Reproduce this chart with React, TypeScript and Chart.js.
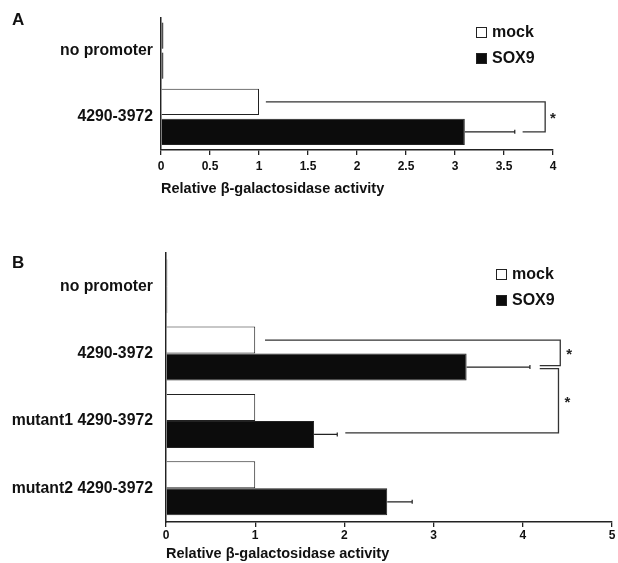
import React, { useEffect, useRef } from "react";
import { Chart, registerables } from "chart.js";
Chart.register(...registerables);

// ---------- Panel A data ----------
const categoriesA = ["no promoter", "4290-3972"];
const mockA = [0.025, 1.0];
const sox9A = [0.025, 3.1];
const sox9ErrA: (number | null)[] = [null, 3.61];
const axisA = { min: 0, max: 4, step: 0.5 };
const bracketsA = [
  { fromCat: 1, fromDs: 0, toCat: 1, toDs: 1, x1: 1.07, xv: 3.92, x2: 3.69, star: 4.0, dy1: 0, dy2: 0 },
];

// ---------- Panel B data ----------
const categoriesB = ["no promoter", "4290-3972", "mutant1 4290-3972", "mutant2 4290-3972"];
const mockB = [0.015, 1.0, 1.0, 1.0];
const sox9B = [0.015, 3.37, 1.66, 2.48];
const sox9ErrB: (number | null)[] = [null, 4.08, 1.92, 2.76];
const axisB = { min: 0, max: 5, step: 1 };
const bracketsB = [
  { fromCat: 1, fromDs: 0, toCat: 1, toDs: 1, x1: 1.11, xv: 4.42, x2: 4.19, star: 4.52, dy1: 0, dy2: -1.5 },
  { fromCat: 1, fromDs: 1, toCat: 2, toDs: 1, x1: 4.19, xv: 4.4, x2: 2.01, star: 4.5, dy1: 1.5, dy2: -1.5 },
];

const seriesLabels = ["mock", "SOX9"];
const seriesColors = ["#ffffff", "#0c0c0c"];
const FONT = "'Liberation Sans', Arial, Helvetica, sans-serif";

const annot = {
  id: "annot",
  afterDatasetsDraw(chart: any, _args: any, opts: any) {
    const ctx = chart.ctx as CanvasRenderingContext2D;
    const xs = chart.scales.x;
    const metas = [chart.getDatasetMeta(0), chart.getDatasetMeta(1)];
    ctx.save();
    // error bars
    ctx.strokeStyle = "#222";
    ctx.lineWidth = 1.2;
    (opts.errors as (number | null)[]).forEach((e, i) => {
      if (e == null) return;
      const bar = metas[1].data[i];
      const y = bar.y;
      const x1 = xs.getPixelForValue(e);
      ctx.beginPath();
      ctx.moveTo(bar.x, y);
      ctx.lineTo(x1, y);
      ctx.moveTo(x1, y - 2);
      ctx.lineTo(x1, y + 2);
      ctx.stroke();
    });
    // brackets
    ctx.strokeStyle = "#333";
    ctx.lineWidth = 1.3;
    ctx.fillStyle = "#222";
    ctx.font = `bold 15px ${FONT}`;
    ctx.textAlign = "center";
    ctx.textBaseline = "middle";
    (opts.brackets as any[]).forEach((b) => {
      const yA = metas[b.fromDs].data[b.fromCat].y + b.dy1;
      const yB = metas[b.toDs].data[b.toCat].y + b.dy2;
      const xa = xs.getPixelForValue(b.x1);
      const xv = xs.getPixelForValue(b.xv);
      const xb = xs.getPixelForValue(b.x2);
      ctx.beginPath();
      ctx.moveTo(xa, yA);
      ctx.lineTo(xv, yA);
      ctx.lineTo(xv, yB);
      ctx.lineTo(xb, yB);
      ctx.stroke();
      ctx.fillText("*", xs.getPixelForValue(b.star), (yA + yB) / 2 + 2);
    });
    // legend
    const lg = opts.legend;
    ctx.textAlign = "left";
    ctx.font = `bold 16px ${FONT}`;
    chart.data.datasets.forEach((ds: any, i: number) => {
      const y = lg.y + i * lg.gap;
      ctx.fillStyle = seriesColors[i];
      ctx.fillRect(lg.x, y, 11, 11);
      ctx.strokeStyle = "#222";
      ctx.lineWidth = 1;
      ctx.strokeRect(lg.x + 0.5, y + 0.5, 10, 10);
      ctx.fillStyle = "#111";
      ctx.textBaseline = "middle";
      ctx.fillText(ds.label, lg.x + 16, y + 6);
    });
    // panel letter
    ctx.font = `bold 17px ${FONT}`;
    ctx.textBaseline = "alphabetic";
    ctx.fillStyle = "#111";
    ctx.fillText(opts.letter, 12, opts.letterY);
    ctx.restore();
  },
};

// very short bars render as solid dark slivers (border dominates)
const fillFor = (i: number) => (c: any) => {
  const v = c.raw as number;
  return v < 0.1 ? "#111" : seriesColors[i];
};

function makeConfig(p: any) {
  return {
    type: "bar",
    data: {
      labels: p.categories,
      datasets: [
        {
          label: seriesLabels[0],
          data: p.mock,
          backgroundColor: fillFor(0),
          borderColor: "#222",
          borderWidth: 1,
          categoryPercentage: p.catPct,
          barPercentage: p.barPct,
        },
        {
          label: seriesLabels[1],
          data: p.sox9,
          backgroundColor: fillFor(1),
          borderColor: "#222",
          borderWidth: 1,
          categoryPercentage: p.catPct,
          barPercentage: p.barPct,
        },
      ],
    },
    plugins: [annot],
    options: {
      indexAxis: "y",
      responsive: false,
      maintainAspectRatio: false,
      animation: false,
      devicePixelRatio: 1,
      layout: { padding: { top: p.padTop, right: p.padRight, left: 0, bottom: 0 } },
      scales: {
        x: {
          type: "linear",
          min: p.axis.min,
          max: p.axis.max,
          ticks: {
            stepSize: p.axis.step,
            color: "#111",
            font: { family: FONT, size: 12, weight: "bold" },
            padding: p.tickPad,
            maxRotation: 0,
            callback: (v: any) => String(Number(v)),
          },
          grid: { drawOnChartArea: false, drawTicks: true, tickLength: 5, color: "#222", lineWidth: 1.3 },
          border: { display: true, color: "#222", width: 1.5 },
          title: {
            display: true,
            text: "Relative \u03b2-galactosidase activity",
            align: "start",
            color: "#111",
            font: { family: FONT, size: 14.5, weight: "bold" },
            padding: { top: 0, bottom: p.titlePad },
          },
          afterFit: (s: any) => {
            s.height = p.xHeight;
          },
        },
        y: {
          type: "category",
          ticks: {
            color: "#111",
            font: { family: FONT, size: 15.8, weight: "bold" },
            padding: p.yPad,
            crossAlign: "near",
          },
          grid: { display: false, drawTicks: false },
          border: { display: true, color: "#222", width: 1.5 },
          afterFit: (s: any) => {
            s.width = p.yWidth;
          },
        },
      },
      plugins: {
        legend: { display: false },
        tooltip: { enabled: false },
        annot: {
          errors: p.errors,
          brackets: p.brackets,
          legend: p.legend,
          letter: p.letter,
          letterY: p.letterY,
        },
      },
    },
  };
}

function Panel(props: { top: number; height: number; params: any }) {
  const ref = useRef<HTMLCanvasElement>(null);
  useEffect(() => {
    if (!ref.current) return;
    const chart = new Chart(ref.current, makeConfig(props.params) as any);
    return () => chart.destroy();
  }, []);
  return (
    <canvas
      ref={ref}
      width={618}
      height={props.height}
      style={{ position: "absolute", left: 0, top: props.top, width: 618, height: props.height }}
    />
  );
}

const paramsA = {
  categories: categoriesA,
  mock: mockA,
  sox9: sox9A,
  errors: sox9ErrA,
  brackets: bracketsA,
  axis: axisA,
  catPct: 0.9,
  barPct: 0.88,
  padTop: 13,
  padRight: 65,
  xHeight: 55,
  yWidth: 161,
  yPad: 8,
  tickPad: 4,
  titlePad: 7,
  legend: { x: 476, y: 27, gap: 26 },
  letter: "A",
  letterY: 25,
};

const paramsB = {
  categories: categoriesB,
  mock: mockB,
  sox9: sox9B,
  errors: sox9ErrB,
  brackets: bracketsB,
  axis: axisB,
  catPct: 0.8,
  barPct: 1.0,
  padTop: 22,
  padRight: 6,
  xHeight: 41,
  yWidth: 166,
  yPad: 13,
  tickPad: 1,
  titlePad: 0,
  legend: { x: 496, y: 39, gap: 26 },
  letter: "B",
  letterY: 38,
};

export default function App() {
  return (
    <div style={{ position: "fixed", left: 0, top: 0, width: 618, height: 563, background: "#fff", overflow: "hidden" }}>
      <Panel top={0} height={205} params={paramsA} />
      <Panel top={230} height={333} params={paramsB} />
    </div>
  );
}
